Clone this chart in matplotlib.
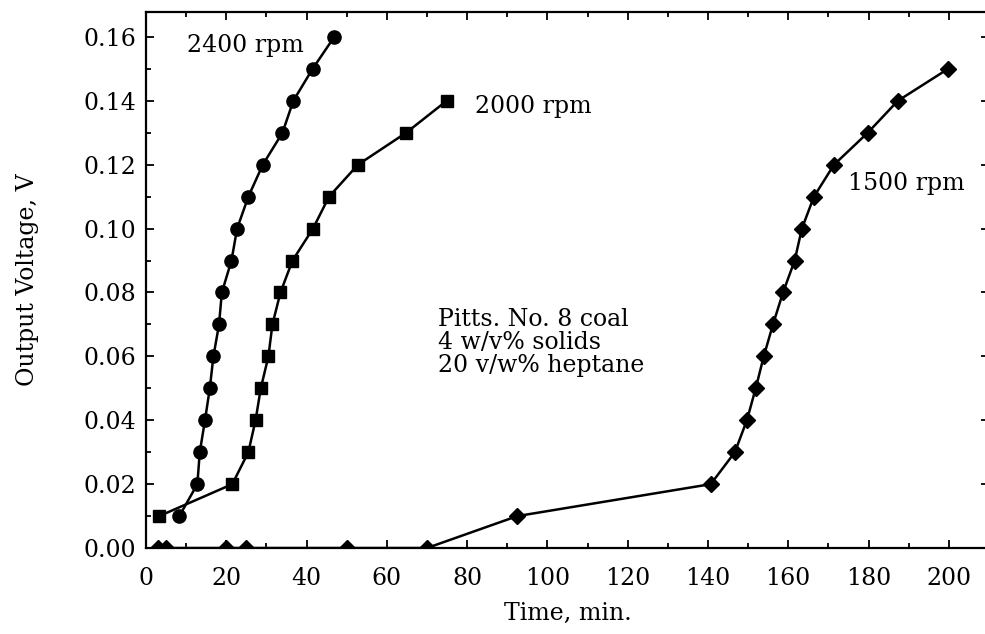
import matplotlib
matplotlib.use("Agg")
import matplotlib.pyplot as plt
from matplotlib.ticker import MultipleLocator, FormatStrFormatter

# 2400 rpm run (circles)
t_2400 = [8.3, 12.8, 13.4, 14.7, 15.9, 16.8, 18.2, 18.9, 21.3, 22.7, 25.5, 29.1, 34.0, 36.7, 41.5, 46.9]
v_2400 = [0.01, 0.02, 0.03, 0.04, 0.05, 0.06, 0.07, 0.08, 0.09, 0.10, 0.11, 0.12, 0.13, 0.14, 0.15, 0.16]

# 2000 rpm run (squares)
t_2000 = [3.3, 21.5, 25.5, 27.3, 28.6, 30.5, 31.5, 33.5, 36.5, 41.6, 45.6, 52.8, 64.8, 74.9]
v_2000 = [0.01, 0.02, 0.03, 0.04, 0.05, 0.06, 0.07, 0.08, 0.09, 0.10, 0.11, 0.12, 0.13, 0.14]

# 1500 rpm run (diamonds)
t_1500 = [3, 5, 20, 25, 50, 70, 92.5, 140.7, 146.7, 149.7, 151.9, 153.9, 156.2, 158.7,
          161.6, 163.4, 166.4, 171.4, 179.8, 187.3, 199.8]
v_1500 = [0, 0, 0, 0, 0, 0, 0.01, 0.02, 0.03, 0.04, 0.05, 0.06, 0.07, 0.08,
          0.09, 0.10, 0.11, 0.12, 0.13, 0.14, 0.15]

plt.rcParams["font.family"] = ["DejaVu Serif"]
plt.rcParams["font.size"] = 17

fig = plt.figure(figsize=(9.85, 6.34), dpi=100)
ax = fig.add_axes([0.1482, 0.1356, 0.8558, 0.8454])

line_kw = dict(color="black", linewidth=1.8)
ax.plot(t_2400, v_2400, marker="o", markersize=9.5, **line_kw)
ax.plot(t_2000, v_2000, marker="s", markersize=9, **line_kw)
ax.plot(t_1500, v_1500, marker="D", markersize=8.5, **line_kw)

ax.text(10.2, 0.1574, "2400 rpm", ha="left", va="center")
ax.text(81.9, 0.1383, "2000 rpm", ha="left", va="center")
ax.text(174.8, 0.1142, "1500 rpm", ha="left", va="center")
ax.text(72.7, 0.0642, "Pitts. No. 8 coal\n4 w/v% solids\n20 v/w% heptane",
        ha="left", va="center", linespacing=1.0)

ax.set_xlim(0, 210)
ax.set_ylim(0, 0.1678)
ax.xaxis.set_major_locator(MultipleLocator(20))
ax.xaxis.set_minor_locator(MultipleLocator(10))
ax.yaxis.set_major_locator(MultipleLocator(0.02))
ax.yaxis.set_minor_locator(MultipleLocator(0.01))
ax.yaxis.set_major_formatter(FormatStrFormatter("%.2f"))
ax.set_xticks([x for x in range(0, 201, 20)])

ax.tick_params(which="both", direction="in", top=True, right=True, width=1.3)
ax.tick_params(which="major", length=6, pad=7)
ax.tick_params(which="minor", length=3.5)
ax.tick_params(which="minor", axis="y", right=False)
ax.tick_params(axis="x", which="major", pad=14)

for s in ax.spines.values():
    s.set_linewidth(1.6)
ax.spines["right"].set_visible(False)

ax.set_xlabel("Time, min.", labelpad=8)
ax.set_ylabel("Output Voltage, V", labelpad=32)

fig.savefig("out.png", dpi=100)
